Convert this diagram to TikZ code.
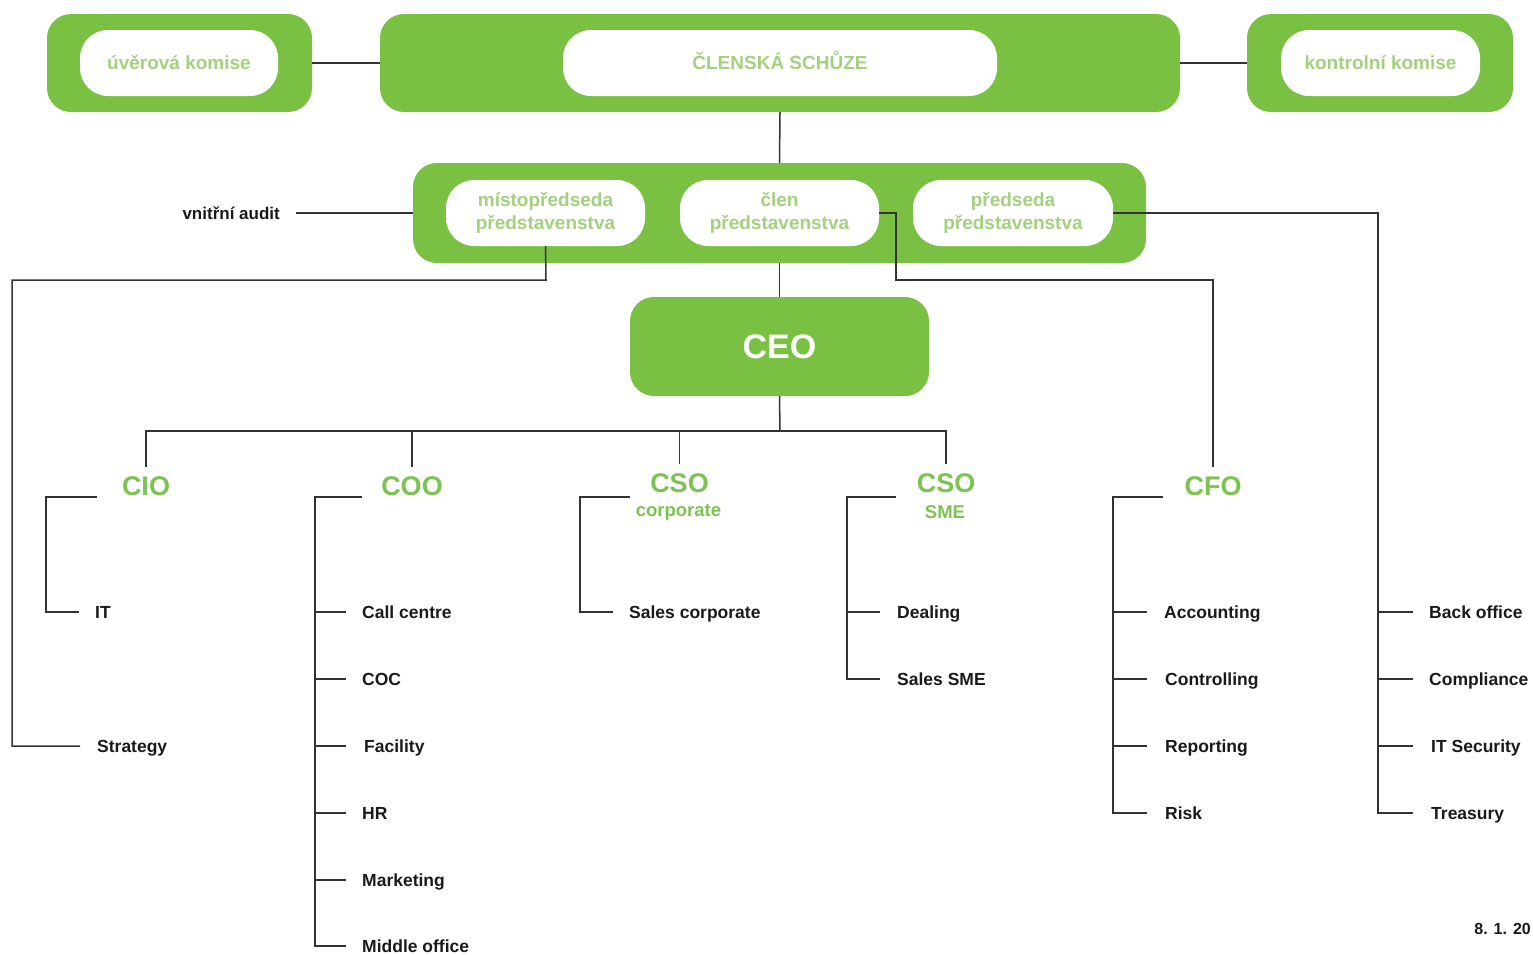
\documentclass[tikz,border=0pt]{standalone}
\usepackage{fontspec}
\setmainfont{Liberation Sans}
\definecolor{gr}{HTML}{7AC143}
\definecolor{lgr}{HTML}{A3D17E}
\definecolor{tgr}{HTML}{7DC352}
\definecolor{ln}{HTML}{333333}
\definecolor{tx}{HTML}{1A1A1A}
\begin{document}
\begin{tikzpicture}[x=1pt,y=-1pt,
 outer/.style={fill=gr, rounded corners=24pt, inner sep=0pt},
 inbox/.style={fill=white, rounded corners=28pt, inner sep=0pt, minimum height=66pt,
   font=\bfseries\fontsize{19}{23}\selectfont, text=lgr, align=center},
 oneline/.style={text height=13.5pt, text depth=0pt},
 conn/.style={draw=ln, line width=1.5pt},
 item/.style={anchor=west, inner sep=0pt, text height=12.5pt, text depth=0pt,
   font=\bfseries\fontsize{17.5}{20}\selectfont, text=tx},
 head/.style={font=\bfseries\fontsize{27}{30}\selectfont, text=tgr, inner sep=0pt}]
\useasboundingbox (0,0) rectangle (1533,954);
\fill[white] (0,0) rectangle (1533,954);

% top row
\node[outer, minimum width=265pt, minimum height=98pt] (uvO) at (179.5,63) {};
\node[inbox, oneline, minimum width=198pt] (uv) at (179,63) {úvěrová komise};
\node[outer, minimum width=800pt, minimum height=98pt] (csO) at (780,63) {};
\node[inbox, oneline, minimum width=434pt] (cs) at (780,63) {ČLENSKÁ SCHŮZE};
\node[outer, minimum width=266pt, minimum height=98pt] (koO) at (1380,63) {};
\node[inbox, oneline, minimum width=199pt] (ko) at (1380.5,63) {kontrolní komise};

% board
\node[outer, minimum width=733pt, minimum height=100pt] (bd) at (779.5,213) {};
\node[inbox, minimum width=199pt] (mp) at (545.5,213) {\raisebox{-2pt}{místopředseda}\\\raisebox{-2pt}{představenstva}};
\node[inbox, minimum width=199pt] (cl) at (779.5,213) {\raisebox{-2pt}{člen}\\\raisebox{-2pt}{představenstva}};
\node[inbox, minimum width=200pt] (pr) at (1013,213) {\raisebox{-2pt}{předseda}\\\raisebox{-2pt}{představenstva}};
\node[anchor=east, inner sep=0pt, font=\bfseries\fontsize{17}{20}\selectfont, text=tx] (va) at (280,213) {vnitřní audit};

% CEO
\node[outer, minimum width=299pt, minimum height=99pt, font=\bfseries\fontsize{34}{38}\selectfont, text=white] (ceo) at (779.5,346.5) {CEO};

% heads
\node[head] (cio) at (146,486) {CIO};
\node[head] (coo) at (412,486) {COO};
\node[head] (csoc) at (679.5,483) {CSO};
\node[inner sep=0pt, font=\bfseries\fontsize{18.5}{22}\selectfont, text=tgr] (corp) at (678.5,512) {corporate};
\node[head] (csme) at (946,483) {CSO};
\node[inner sep=0pt, font=\bfseries\fontsize{18.5}{22}\selectfont, text=tgr] (sme) at (945,512) {SME};
\node[head] (cfo) at (1213,486) {CFO};

% items
\node[item] (it) at (95,612) {IT};
\node[item] (st) at (97,746) {Strategy};
\node[item] (cc) at (362,612) {Call centre};
\node[item] (coc) at (362,679) {COC};
\node[item] (fa) at (364,746) {Facility};
\node[item] (hr) at (362,813) {HR};
\node[item] (ma) at (362,880) {Marketing};
\node[item] (mo) at (362,946) {Middle office};
\node[item] (sc) at (629,612) {Sales corporate};
\node[item] (de) at (897,612) {Dealing};
\node[item] (ss) at (897,679) {Sales SME};
\node[item] (ac) at (1164,612) {Accounting};
\node[item] (co) at (1165,679) {Controlling};
\node[item] (re) at (1165,746) {Reporting};
\node[item] (ri) at (1165,813) {Risk};
\node[item] (bo) at (1429,612) {Back office};
\node[item] (cm) at (1429,679) {Compliance};
\node[item] (its) at (1431,746) {IT Security};
\node[item] (tr) at (1431,813) {Treasury};
\node[anchor=east, inner sep=0pt, font=\bfseries\fontsize{16}{19}\selectfont, text=tx] (date) at (1531,929) {8. 1. 20};

% coordinates
\coordinate (bus) at (780,431);
\coordinate (cioT) at (97,497);
\coordinate (cooT) at (362,497);
\coordinate (csocT) at (630,497);
\coordinate (csmeT) at (896,497);
\coordinate (cfoT) at (1163,497);

% connectors top
\draw[conn] (uvO.east) -- (csO.west);
\draw[conn] (csO.east) -- (koO.west);
\draw[conn] (csO.south) -- (bd.north);
\draw[conn] (va.east) ++(16pt,0) -- (bd.west);
\draw[conn] (bd.south) -- (ceo.north);
\draw[conn] (ceo.south) -- (bus);
\draw[conn] ([yshift=9pt]cio.north) -- (cio.north |- bus) -- (csme.north |- bus) -- ([yshift=9pt]csme.north);
\draw[conn] ([yshift=9pt]coo.north) -- (coo.north |- bus);
\draw[conn] ([yshift=9pt]csoc.north) -- (csoc.north |- bus);

% board to departments
\draw[conn] (mp.south) -- (546,280) -| (12,746) -- ([xshift=-17pt]st.west);
\draw[conn] (cl.east) -- (896,213) -- (896,280) -| ([yshift=9pt]cfo.north);
\draw[conn] (pr.east) -| ([xshift=-53pt]tr.west) -- ([xshift=-18pt]tr.west);
\foreach \n in {bo,cm} \draw[conn] ([xshift=-51pt]\n.west) -- ([xshift=-16pt]\n.west);
\draw[conn] ([xshift=-53pt]its.west) -- ([xshift=-18pt]its.west);

% brackets
\draw[conn] (cioT) -| ([xshift=-49pt]it.west) -- ([xshift=-16pt]it.west);
\draw[conn] (cooT) -| ([xshift=-47pt]mo.west) -- ([xshift=-16pt]mo.west);
\foreach \n in {cc,coc,hr,ma} \draw[conn] ([xshift=-47pt]\n.west) -- ([xshift=-16pt]\n.west);
\draw[conn] ([xshift=-49pt]fa.west) -- ([xshift=-18pt]fa.west);
\draw[conn] (csocT) -| ([xshift=-49pt]sc.west) -- ([xshift=-16pt]sc.west);
\draw[conn] (csmeT) -| ([xshift=-50pt]ss.west) -- ([xshift=-17pt]ss.west);
\draw[conn] ([xshift=-50pt]de.west) -- ([xshift=-17pt]de.west);
\draw[conn] (cfoT) -| ([xshift=-52pt]ri.west) -- ([xshift=-18pt]ri.west);
\foreach \n in {co,re} \draw[conn] ([xshift=-52pt]\n.west) -- ([xshift=-18pt]\n.west);
\draw[conn] ([xshift=-51pt]ac.west) -- ([xshift=-17pt]ac.west);
\end{tikzpicture}
\end{document}
